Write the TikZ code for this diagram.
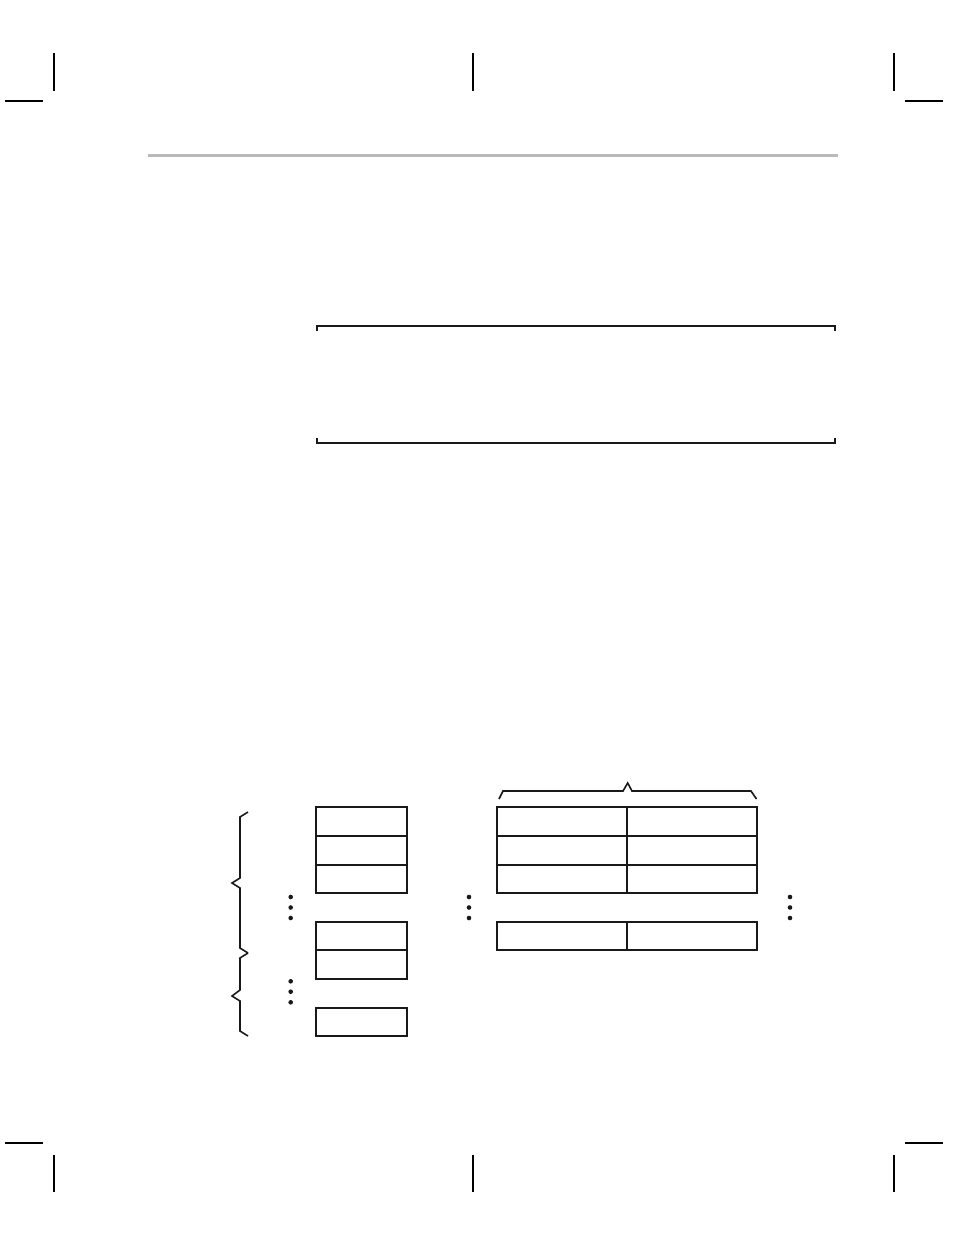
\documentclass[tikz,border=0pt]{standalone}
\begin{document}
\begin{tikzpicture}[x=1pt,y=-1pt,
  crop/.style={line width=1.2pt,black},
  thin box/.style={line width=1.1pt,black!90},
  thick rule/.style={line width=2pt,black!90},
  dotmark/.style={fill=black!90},
  brace/.style={line width=1.6pt,black!90,line join=miter}]
\useasboundingbox (0,0) rectangle (954,1235);
% crop marks top
\draw[crop] (54,53) -- (54,91);
\draw[crop] (473,53) -- (473,91);
\draw[crop] (894,53) -- (894,91);
\draw[crop] (5,101) -- (43,101);
\draw[crop] (905,101) -- (943,101);
% crop marks bottom
\draw[crop] (5,1143) -- (43,1143);
\draw[crop] (905,1143) -- (943,1143);
\draw[crop] (54,1155) -- (54,1192);
\draw[crop] (473,1155) -- (473,1192);
\draw[crop] (894,1155) -- (894,1192);
% gray header rule
\draw[line width=3pt,color=black!27] (148,155.5) -- (838,155.5);
% bracket frame
\draw[line width=2pt,black!90] (317,331) -- (317,326) -- (835,326) -- (835,331);
\draw[line width=2pt,black!90] (317,438) -- (317,443) -- (835,443) -- (835,438);
% left column boxes
\draw[thin box] (316,807) rectangle (407,893);
\draw[thick rule] (316,836) -- (407,836);
\draw[thick rule] (316,865) -- (407,865);
\draw[thin box] (316,922) rectangle (407,979);
\draw[thin box] (316,950) -- (407,950);
\draw[thick rule] (316,979) -- (407,979);
\draw[thin box] (316,1008) rectangle (407,1036);
\draw[thick rule] (316,1008) -- (407,1008);
% right table
\draw[thin box] (497,807) rectangle (757,893);
\draw[thick rule] (497,836) -- (757,836);
\draw[thick rule] (497,865) -- (757,865);
\draw[thin box] (627,807) -- (627,893);
\draw[thin box] (497,922) rectangle (757,950);
\draw[thin box] (627,922) -- (627,950);
% dots
\foreach \yy in {897,907.5,918} {
  \fill[dotmark] (290.7,\yy) circle (2.3);
  \fill[dotmark] (469,\yy) circle (2.3);
  \fill[dotmark] (790,\yy) circle (2.3);
}
\foreach \yy in {981.3,991.7,1002.3} {
  \fill[dotmark] (290.7,\yy) circle (2.3);
}
% left braces
\draw[brace] (248,812) -- (240,817) -- (240,878) -- (232,883) -- (240,888) -- (240,948) -- (248,953);
\draw[brace] (248,953) -- (240,958) -- (240,990) -- (232,996) -- (240,1001) -- (240,1031) -- (248,1036);
% top brace
\draw[brace] (499,799) -- (503,791) -- (623,791) -- (627.7,783) -- (632,791) -- (751,791) -- (756.5,799);
\end{tikzpicture}
\end{document}
